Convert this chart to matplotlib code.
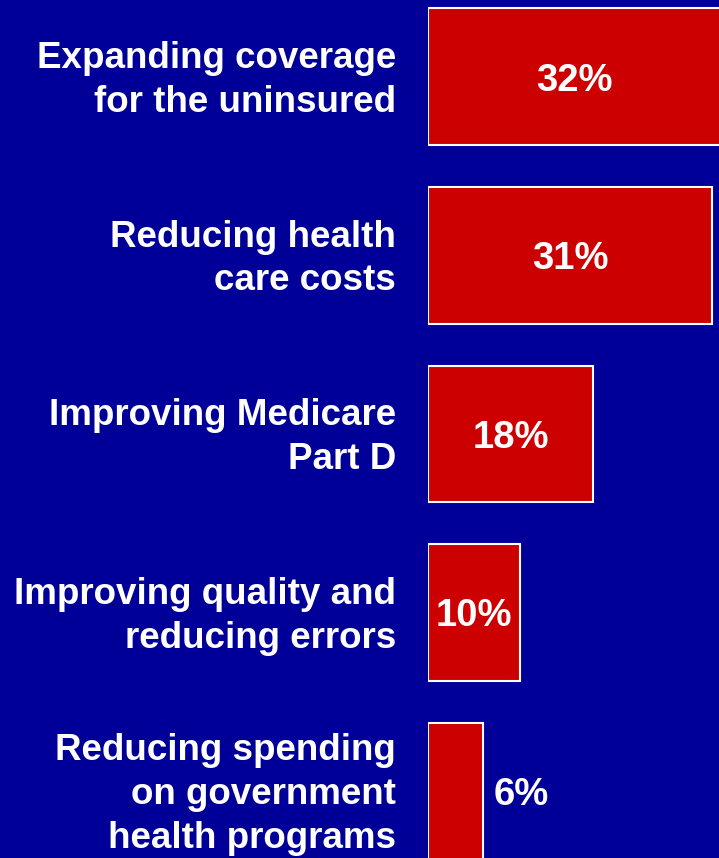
import matplotlib
matplotlib.use("Agg")
import matplotlib.pyplot as plt
import numpy as np

categories = [
    "Expanding coverage\nfor the uninsured",
    "Reducing health\ncare costs",
    "Improving Medicare\nPart D",
    "Improving quality and\nreducing errors",
    "Reducing spending\non government\nhealth programs",
]
values = [32, 31, 18, 10, 6]
value_labels = ["32%", "31%", "18%", "10%", "6%"]

BG = "#000099"
BAR = "#cc0000"

plt.rcParams["font.family"] = ["Liberation Sans", "DejaVu Sans"]

fig = plt.figure(figsize=(7.19, 8.58), dpi=100, facecolor=BG)
ax = fig.add_axes([428 / 719, 0, 1 - 428 / 719, 1])
ax.set_facecolor(BG)

y = np.arange(len(values))
ax.barh(y, values, height=0.767, color=BAR, edgecolor="white", linewidth=1.5)
ax.set_xlim(0, 31.73)
ax.set_ylim(4.375, -0.431)
ax.axis("off")

# small downward nudge so the text sits optically centred
dy = 0.02

for i, (v, lab) in enumerate(zip(values, value_labels)):
    if v >= 10:
        ax.text(v / 2, i + dy, lab, color="white", fontsize=27.5,
                fontweight="bold", ha="center", va="center")
    else:
        ax.text(v + 1.2, i + dy, lab, color="white", fontsize=27.5,
                fontweight="bold", ha="left", va="center")

# category labels to the left of the bars
trans = ax.get_yaxis_transform()
for i, cat in enumerate(categories):
    ax.text(-0.11, i + dy, cat, transform=trans, color="white",
            fontsize=26.5, fontweight="bold", ha="right", va="center",
            multialignment="right", linespacing=1.33, clip_on=False)

fig.savefig("out.png", dpi=100, facecolor=BG)
